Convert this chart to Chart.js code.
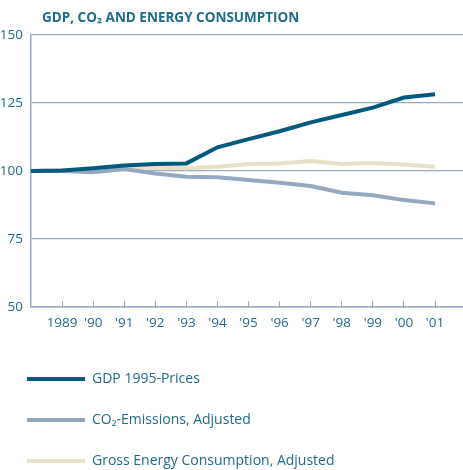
<!DOCTYPE html>
<html>
<head>
<meta charset="utf-8">
<script src="https://cdn.jsdelivr.net/npm/chart.js@4/dist/chart.umd.min.js"></script>
<style>
  html, body { margin: 0; padding: 0; background: #ffffff; }
  #wrap { width: 463px; height: 470px; overflow: hidden; position: relative; }
  canvas { display: block; }
</style>
</head>
<body>
<div id="wrap"><canvas id="c" width="463" height="478"></canvas></div>
<script>
const titleText = 'GDP, CO\u2082 AND ENERGY CONSUMPTION';
const years = [1988, 1989, 1990, 1991, 1992, 1993, 1994, 1995, 1996, 1997, 1998, 1999, 2000, 2001];
const tickYears = [1989, 1990, 1991, 1992, 1993, 1994, 1995, 1996, 1997, 1998, 1999, 2000, 2001];
const tickLabels = ['1989', "'90", "'91", "'92", "'93", "'94", "'95", "'96", "'97", "'98", "'99", "'00", "'01"];
const seriesNames = ['GDP 1995-Prices', 'CO\u2082-Emissions, Adjusted', 'Gross Energy Consumption, Adjusted'];
const gdp    = [100, 100.2, 101.0, 102.0, 102.6, 102.8, 108.7, 111.7, 114.6, 117.9, 120.6, 123.3, 127.0, 128.2];
const co2    = [100, 100.0, 99.5, 100.7, 99.1, 97.9, 97.7, 96.7, 95.7, 94.5, 92.0, 91.1, 89.3, 88.1];
const energy = [100, 100.3, 100.5, 101.0, 101.3, 101.0, 101.6, 102.6, 102.8, 103.7, 102.6, 102.9, 102.4, 101.6];

const colors = ['#00597f', '#95a8bf', '#e7e1c7'];
const textColor = '#1f6b8b';
const gridColor = '#9aabbf';
const fontFam = "'Open Sans', 'Noto Sans', sans-serif";

const toPts = arr => arr.map((v, i) => ({x: years[i], y: v}));
const seriesData = [gdp, co2, energy];

const titlePlugin = {
  id: 'titleText',
  afterDraw(chart) {
    const ctx = chart.ctx;
    ctx.save();
    ctx.font = 'bold 13.5px ' + fontFam;
    ctx.fillStyle = textColor;
    ctx.textBaseline = 'middle';
    ctx.textAlign = 'left';
    ctx.fillText(titleText, 42, 18);
    ctx.restore();
  }
};

new Chart(document.getElementById('c'), {
  type: 'line',
  data: {
    datasets: seriesNames.map((name, i) => ({
      label: name,
      data: toPts(seriesData[i]),
      borderColor: colors[i],
      backgroundColor: colors[i],
      borderWidth: 4,
      pointRadius: 0,
      tension: 0,
      fill: false
    }))
  },
  options: {
    responsive: false,
    animation: false,
    layout: { padding: { top: 35, left: 0, right: 0, bottom: 0 } },
    scales: {
      x: {
        type: 'linear',
        min: 1988,
        max: 2001.9,
        afterBuildTicks(scale) { scale.ticks = tickYears.map(v => ({value: v})); },
        afterFit(scale) { scale.height = 38; },
        ticks: {
          autoSkip: false,
          maxRotation: 0,
          padding: 14,
          color: textColor,
          font: { family: fontFam, size: 13.5 },
          callback: (v) => { const k = tickYears.indexOf(v); return k >= 0 ? tickLabels[k] : ''; }
        },
        grid: { drawOnChartArea: false, drawTicks: true, tickLength: -6, color: gridColor, lineWidth: 1 },
        border: { display: true, color: gridColor, width: 1.5 }
      },
      y: {
        min: 50,
        max: 150,
        afterFit(scale) { scale.width = 31; },
        ticks: {
          stepSize: 25,
          padding: 8,
          color: textColor,
          font: { family: fontFam, size: 13.5 }
        },
        grid: { drawTicks: false, color: gridColor, lineWidth: 1.2 },
        border: { display: true, color: gridColor, width: 1.5 }
      }
    },
    plugins: {
      tooltip: { enabled: false },
      title: { display: false },
      legend: {
        position: 'bottom',
        align: 'start',
        labels: {
          boxWidth: 58,
          boxHeight: 4,
          padding: 27,
          color: textColor,
          font: { family: fontFam, size: 14 },
          generateLabels(chart) {
            return Chart.defaults.plugins.legend.labels.generateLabels(chart).map(l => ({...l, lineWidth: 0}));
          }
        }
      }
    }
  },
  plugins: [titlePlugin]
});
</script>
</body>
</html>
